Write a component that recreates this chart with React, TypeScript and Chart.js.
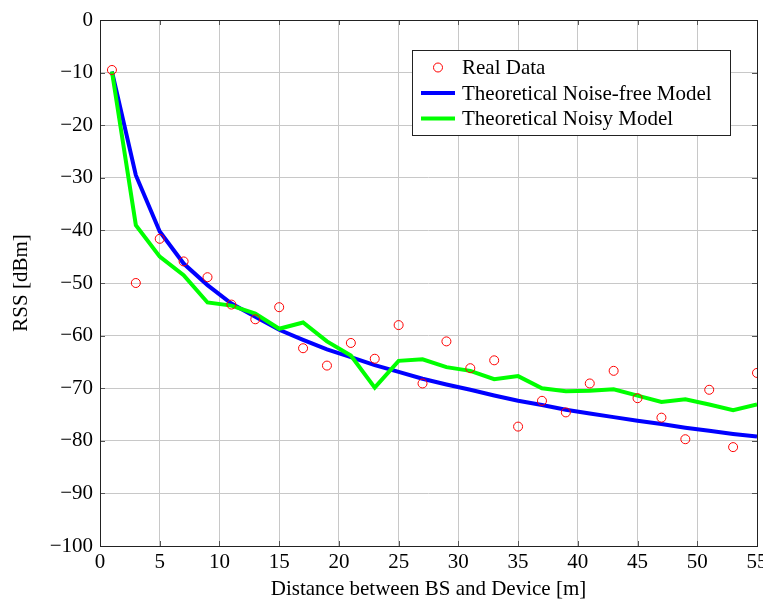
import React, { useEffect, useRef } from "react";
import { Chart, registerables } from "chart.js";

Chart.register(...registerables);

const distances = [1, 3, 5, 7, 9, 11, 13, 15, 17, 19, 21, 23, 25, 27, 29, 31, 33, 35, 37, 39, 41, 43, 45, 47, 49, 51, 53, 55];
const realData = [-9.5, -50.0, -41.6, -45.9, -48.9, -54.1, -56.9, -54.6, -62.4, -65.7, -61.4, -64.4, -58.0, -69.1, -61.1, -66.2, -64.7, -77.3, -72.4, -74.6, -69.1, -66.7, -71.9, -75.6, -79.7, -70.3, -81.2, -67.1];
const noiseFreeModel = [-9.8, -29.5, -40.2, -46.3, -50.4, -53.9, -56.4, -58.9, -60.8, -62.6, -64.1, -65.6, -66.9, -68.2, -69.3, -70.3, -71.4, -72.4, -73.2, -74.1, -74.8, -75.5, -76.2, -76.8, -77.5, -78.1, -78.7, -79.2];
const noisyModel = [-9.8, -39.0, -45.0, -48.5, -53.7, -54.3, -55.8, -58.7, -57.5, -61.1, -63.8, -69.9, -64.8, -64.5, -66.0, -66.7, -68.3, -67.7, -70.0, -70.6, -70.5, -70.2, -71.4, -72.6, -72.1, -73.1, -74.2, -73.1];

const seriesLabels = ["Real Data", "Theoretical Noise-free Model", "Theoretical Noisy Model"];
const xAxisTitle = "Distance between BS and Device [m]";
const yAxisTitle = "RSS [dBm]";
const xMin = 0, xMax = 55, xStep = 5;
const yMin = -100, yMax = 0, yStep = 10;

const FONT = "'Liberation Serif', 'DejaVu Serif', serif";
const FS = 21;
const GRID = "#c8c8c8";

const toPts = (ys: number[]) => ys.map((y, i) => ({ x: distances[i], y }));
const fmt = (v: number | string) => String(v).replace("-", "\u2212");

const framePlugin = {
  id: "frameAndLegend",
  afterDraw(chart: any) {
    const { ctx, chartArea: a, scales } = chart;
    ctx.save();
    // inward tick marks
    ctx.strokeStyle = "#555";
    ctx.lineWidth = 1;
    const tl = 5;
    scales.y.ticks.forEach((t: any) => {
      const py = Math.round(scales.y.getPixelForValue(t.value)) + 0.5;
      ctx.beginPath();
      ctx.moveTo(a.left, py); ctx.lineTo(a.left + tl, py);
      ctx.moveTo(a.right, py); ctx.lineTo(a.right - tl, py);
      ctx.stroke();
    });
    scales.x.ticks.forEach((t: any) => {
      const px = Math.round(scales.x.getPixelForValue(t.value)) + 0.5;
      ctx.beginPath();
      ctx.moveTo(px, a.bottom); ctx.lineTo(px, a.bottom - tl);
      ctx.moveTo(px, a.top); ctx.lineTo(px, a.top + tl);
      ctx.stroke();
    });
    // frame
    ctx.strokeStyle = "#222";
    ctx.lineWidth = 1;
    ctx.strokeRect(Math.round(a.left) + 0.5, Math.round(a.top) + 0.5, Math.round(a.right - a.left), Math.round(a.bottom - a.top));

    // legend box
    const bx = 412.5, by = 50.5, bw = 318, bh = 85;
    ctx.fillStyle = "#fff";
    ctx.fillRect(bx, by, bw, bh);
    ctx.strokeStyle = "#222";
    ctx.strokeRect(bx, by, bw, bh);
    const ds = chart.data.datasets;
    const rows = [67.5, 93, 118.5];
    ctx.font = FS + "px " + FONT;
    ctx.textBaseline = "middle";
    ctx.textAlign = "left";
    ds.forEach((d: any, i: number) => {
      const y = rows[i];
      if (d.showLine === false) {
        ctx.beginPath();
        ctx.arc(438, y, 4.5, 0, Math.PI * 2);
        ctx.strokeStyle = d.borderColor;
        ctx.lineWidth = 1;
        ctx.stroke();
      } else {
        ctx.beginPath();
        ctx.moveTo(421, y); ctx.lineTo(455, y);
        ctx.strokeStyle = d.borderColor;
        ctx.lineWidth = 4;
        ctx.stroke();
      }
      ctx.fillStyle = "#000";
      ctx.fillText(d.label, 462, y + 1);
    });
    ctx.restore();
  },
};

export default function App() {
  const ref = useRef<HTMLCanvasElement | null>(null);
  useEffect(() => {
    if (!ref.current) return;
    const chart = new Chart(ref.current, {
      type: "scatter",
      data: {
        datasets: [
          {
            label: seriesLabels[0],
            data: toPts(realData),
            showLine: false,
            borderColor: "#ff0000",
            backgroundColor: "rgba(0,0,0,0)",
            pointRadius: 4.5,
            pointBorderWidth: 1,
            order: 0,
          },
          {
            label: seriesLabels[1],
            data: toPts(noiseFreeModel),
            showLine: true,
            borderColor: "#0000ff",
            borderWidth: 4,
            pointRadius: 0,
            tension: 0,
            order: 2,
          },
          {
            label: seriesLabels[2],
            data: toPts(noisyModel),
            showLine: true,
            borderColor: "#00ff00",
            borderWidth: 4,
            pointRadius: 0,
            tension: 0,
            order: 1,
          },
        ],
      },
      options: {
        animation: false,
        responsive: false,
        maintainAspectRatio: false,
        layout: { padding: { left: 0, top: 20, right: 6, bottom: 0 } },
        plugins: { legend: { display: false }, tooltip: { enabled: false } },
        scales: {
          x: {
            type: "linear",
            min: xMin,
            max: xMax,
            ticks: {
              stepSize: xStep,
              color: "#000",
              font: { family: FONT, size: FS },
              padding: 4,
              maxRotation: 0,
              callback: (v: any) => fmt(v),
            },
            grid: { color: GRID, drawTicks: false },
            border: { display: false },
            title: { display: true, text: xAxisTitle, color: "#000", font: { family: FONT, size: FS }, padding: { top: 0, bottom: -1 } },
            afterFit: (s: any) => { s.paddingLeft = 0; s.paddingRight = 0; s.height = 55; },
          },
          y: {
            type: "linear",
            min: yMin,
            max: yMax,
            ticks: {
              stepSize: yStep,
              color: "#000",
              font: { family: FONT, size: FS },
              padding: 7,
              callback: (v: any) => fmt(v),
            },
            grid: { color: GRID, drawTicks: false },
            border: { display: false },
            title: { display: true, text: yAxisTitle, color: "#000", font: { family: FONT, size: FS }, padding: { top: 9, bottom: 0 } },
            afterFit: (s: any) => { s.width = 100; },
          },
        },
      },
      plugins: [framePlugin],
    });
    return () => chart.destroy();
  }, []);
  return (
    <div style={{ position: "fixed", left: 0, top: 0, width: 763, height: 601, background: "#fff" }}>
      <canvas ref={ref} width={763} height={601} style={{ width: 763, height: 601, display: "block" }} />
    </div>
  );
}
